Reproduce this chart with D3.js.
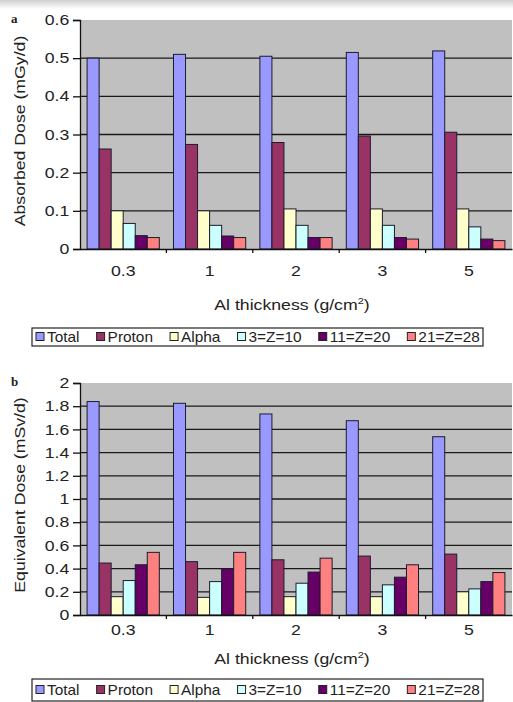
<!DOCTYPE html>
<html>
<head>
<meta charset="utf-8">
<script src="https://cdn.jsdelivr.net/npm/d3@7"></script>
<style>
  body { margin: 0; background: #fff; }
  svg { display: block; font-family: "Liberation Sans", Arial, sans-serif; }
</style>
</head>
<body>
<div id="chart"></div>
<script>
// ---- data ----
const categories = ["0.3", "1", "2", "3", "5"]
const seriesNames = ["Total", "Proton", "Alpha", "3=Z=10", "11=Z=20", "21=Z=28"]
const seriesColors = ["#9999FF", "#993366", "#FFFFCC", "#CCFFFF", "#660066", "#FF8080"]

// panel a : absorbed dose (mGy/d)
const absTotal  = [0.500, 0.510, 0.505, 0.515, 0.519]
const absProton = [0.262, 0.274, 0.279, 0.296, 0.306]
const absAlpha  = [0.100, 0.100, 0.105, 0.105, 0.105]
const absZ3     = [0.067, 0.062, 0.062, 0.062, 0.058]
const absZ11    = [0.035, 0.034, 0.030, 0.030, 0.026]
const absZ21    = [0.030, 0.030, 0.030, 0.026, 0.022]
const absTicks  = [0, 0.1, 0.2, 0.3, 0.4, 0.5, 0.6]

// panel b : equivalent dose (mSv/d)
const eqTotal  = [1.84, 1.825, 1.733, 1.675, 1.537]
const eqProton = [0.448, 0.460, 0.476, 0.508, 0.525]
const eqAlpha  = [0.158, 0.152, 0.158, 0.158, 0.200]
const eqZ3     = [0.297, 0.288, 0.274, 0.260, 0.225]
const eqZ11    = [0.433, 0.398, 0.370, 0.326, 0.288]
const eqZ21    = [0.540, 0.540, 0.490, 0.433, 0.366]
const eqTicks  = [0, 0.2, 0.4, 0.6, 0.8, 1, 1.2, 1.4, 1.6, 1.8, 2]

const W = 513, H = 702
const SX = 1.22   // the scanned font is wide, stretch glyphs a bit

const svg = d3.select("#chart").append("svg")
    .attr("width", W).attr("height", H)

// faint grey band along the top of the scan
var grad = svg.append("defs").append("linearGradient")
    .attr("id", "topband").attr("x1", 0).attr("x2", 0).attr("y1", 0).attr("y2", 1)
grad.append("stop").attr("offset", "0%").attr("stop-color", "#cfcfcf")
grad.append("stop").attr("offset", "100%").attr("stop-color", "#ffffff")
svg.append("rect").attr("width", W).attr("height", 9).attr("fill", "url(#topband)")

const panels = [
    {
        tag: "a", top: 20, bottom: 249, ticks: absTicks,
        series: [absTotal, absProton, absAlpha, absZ3, absZ11, absZ21],
        yTitle: "Absorbed Dose (mGy/d)", yTitleY: 131,
        labelPad: 17, titleBase: 310, legTop: 328, legBot: 346
    },
    {
        tag: "b", top: 383, bottom: 615, ticks: eqTicks,
        series: [eqTotal, eqProton, eqAlpha, eqZ3, eqZ11, eqZ21],
        yTitle: "Equivalent Dose (mSv/d)", yTitleY: 495,
        labelPad: 10, titleBase: 664, legTop: 679, legBot: 701
    }
]

const left = 80, right = 512

panels.forEach(p => {
    var g = svg.append("g")
    var x0 = d3.scaleBand().domain(categories).range([left, right]).padding(0)
    var bw = x0.bandwidth()
    var x1 = d3.scaleBand().domain(seriesNames).range([bw * 0.082, bw * 0.918]).padding(0)
    var y = d3.scaleLinear().domain([0, d3.max(p.ticks)]).range([p.bottom, p.top])

    // plot area
    g.append("rect")
        .attr("x", left).attr("y", p.top)
        .attr("width", right - left).attr("height", p.bottom - p.top)
        .attr("fill", "#C0C0C0")

    // gridlines
    g.append("g").selectAll("line")
        .data(p.ticks.filter(t => t > 0 && t < d3.max(p.ticks)))
        .enter().append("line")
        .attr("x1", left).attr("x2", right)
        .attr("y1", d => y(d)).attr("y2", d => y(d))
        .attr("stroke", "#1a1a1a").attr("stroke-width", 1.3)

    // bars
    var rows = []
    p.series.forEach((vals, si) => {
        vals.forEach((v, ci) => rows.push({ cat: categories[ci], name: seriesNames[si], color: seriesColors[si], v: v }))
    })
    g.append("g").selectAll("rect")
        .data(rows)
        .enter().append("rect")
        .attr("x", d => x0(d.cat) + x1(d.name))
        .attr("y", d => y(d.v))
        .attr("width", x1.bandwidth())
        .attr("height", d => y(0) - y(d.v))
        .attr("fill", d => d.color)
        .attr("stroke", "#1c1c2c").attr("stroke-width", 1)

    // y axis
    var yAx = g.append("g")
        .attr("transform", `translate(${left},0)`)
        .call(d3.axisLeft(y).tickValues(p.ticks).tickSize(7).tickPadding(1.8)
            .tickFormat(d => String(+d.toFixed(1))))
    yAx.select(".domain").attr("stroke", "#111").attr("stroke-width", 1.3)
    yAx.selectAll(".tick line").attr("stroke", "#111").attr("stroke-width", 1.3)
    yAx.selectAll(".tick text")
        .attr("font-size", 14.5).attr("fill", "#222")
        .attr("font-family", "Liberation Sans, Arial, sans-serif")
        .attr("transform", `scale(${SX},1)`)

    // x axis: labels centred, ticks on category boundaries
    var xAx = g.append("g")
        .attr("transform", `translate(0,${p.bottom})`)
        .call(d3.axisBottom(x0).tickSize(0).tickSizeOuter(0).tickPadding(p.labelPad))
    xAx.select(".domain").attr("stroke", "#111").attr("stroke-width", 1.4)
    xAx.selectAll(".tick text")
        .attr("font-size", 14.5).attr("fill", "#222")
        .attr("font-family", "Liberation Sans, Arial, sans-serif")
        .attr("transform", `scale(${SX},1)`)
    g.append("g").selectAll("line")
        .data(categories.slice(1))
        .enter().append("line")
        .attr("x1", d => x0(d)).attr("x2", d => x0(d))
        .attr("y1", p.bottom).attr("y2", p.bottom + 4)
        .attr("stroke", "#111").attr("stroke-width", 1.3)

    // x title
    var xt = g.append("text")
        .attr("transform", `translate(${(left + right) / 2 - 4},${p.titleBase}) scale(${SX},1)`)
        .attr("text-anchor", "middle").attr("font-size", 14.5).attr("fill", "#222")
    xt.append("tspan").text("Al thickness (g/cm")
    xt.append("tspan").text("2").attr("font-size", 9).attr("dy", -6)
    xt.append("tspan").text(")").attr("dy", 6)

    // y title
    g.append("text")
        .attr("transform", `translate(20,${p.yTitleY}) rotate(-90) scale(${SX},1)`)
        .attr("text-anchor", "middle").attr("dominant-baseline", "central")
        .attr("font-size", 14.5).attr("fill", "#222")
        .text(p.yTitle)

    // panel tag
    g.append("text")
        .attr("x", 11).attr("y", p.top + 3)
        .attr("font-family", "Liberation Serif, 'DejaVu Serif', serif")
        .attr("font-weight", "bold").attr("font-size", 13).attr("fill", "#222")
        .text(p.tag)

    // legend
    var lx0 = 32, lx1 = 483
    g.append("rect")
        .attr("x", lx0).attr("y", p.legTop)
        .attr("width", lx1 - lx0).attr("height", p.legBot - p.legTop)
        .attr("fill", "#fff").attr("stroke", "#222").attr("stroke-width", 1.2)
    var cy = (p.legTop + p.legBot) / 2
    var lsx = 1.1, sw = 8, sgap = 3
    var items = g.append("g").selectAll("g")
        .data(seriesNames.map((n, i) => ({ name: n, color: seriesColors[i] })))
        .enter().append("g")
    items.append("rect")
        .attr("width", sw).attr("height", sw)
        .attr("y", cy - sw / 2 - 0.5)
        .attr("fill", d => d.color).attr("stroke", "#222").attr("stroke-width", 1)
    var texts = items.append("text")
        .attr("font-size", 14).attr("fill", "#222")
        .attr("dominant-baseline", "central")
        .text(d => d.name)
    var widths = []
    texts.each(function () { widths.push(this.getComputedTextLength() * lsx) })
    var used = d3.sum(widths) + seriesNames.length * (sw + sgap)
    var start = 36, end = 480
    var gap = (end - start - used) / (seriesNames.length - 1)
    var cx = start
    items.each(function (d, i) {
        var it = d3.select(this)
        it.select("rect").attr("x", cx)
        it.select("text").attr("transform", `translate(${cx + sw + sgap},${cy + 0.5}) scale(${lsx},1)`)
        cx += sw + sgap + widths[i] + gap
    })
})
</script>
</body>
</html>
